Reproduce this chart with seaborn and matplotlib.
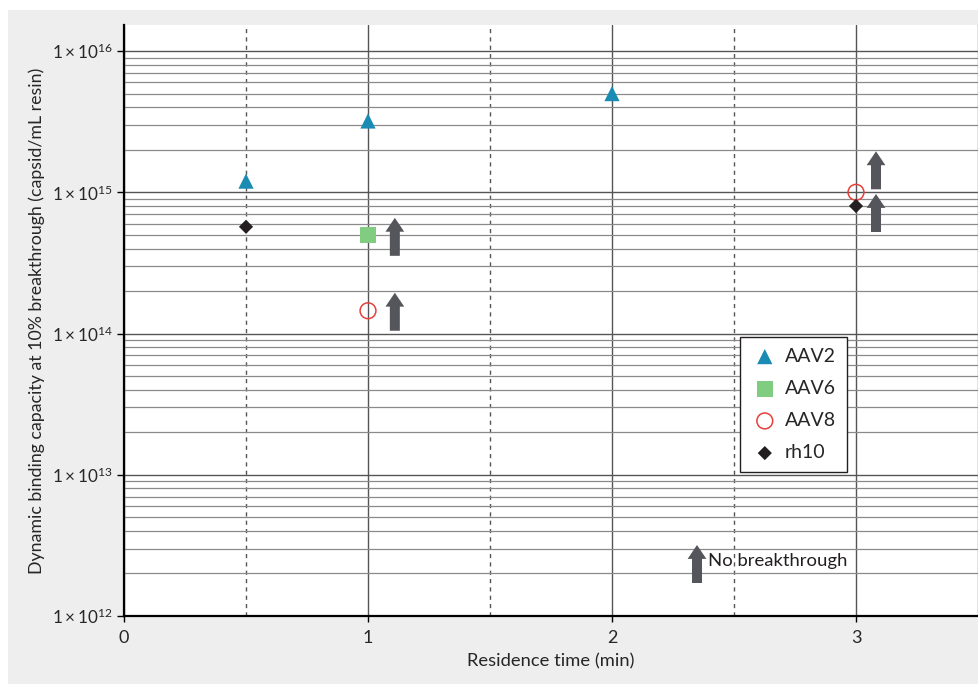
import numpy as np
import pandas as pd
import matplotlib
matplotlib.use("Agg")
import matplotlib.pyplot as plt
from matplotlib.patches import Rectangle
from matplotlib.ticker import FixedLocator, FuncFormatter, LogLocator, NullFormatter
from matplotlib.transforms import offset_copy
import seaborn as sns

# Dynamic binding capacity at 10% breakthrough per serotype
aav2_time = [0.5, 1.0, 2.0]
aav2_dbc = [1.2e15, 3.2e15, 5.0e15]
aav6_time = [1.0]
aav6_dbc = [5.0e14]
aav8_time = [1.0, 3.0]
aav8_dbc = [1.45e14, 1.0e15]
rh10_time = [0.5, 3.0]
rh10_dbc = [5.7e14, 8.0e14]

# Runs where no breakthrough occurred (value is a lower bound)
nb_series = ["AAV6", "AAV8", "AAV8", "rh10"]
nb_time = [1.0, 1.0, 3.0, 3.0]
nb_dbc = [5.0e14, 1.45e14, 1.0e15, 8.0e14]

x_ticks = [0, 1, 2, 3]
y_ticks = [1e12, 1e13, 1e14, 1e15, 1e16]

frames = []
for name, t, v in [("AAV2", aav2_time, aav2_dbc), ("AAV6", aav6_time, aav6_dbc),
                   ("AAV8", aav8_time, aav8_dbc), ("rh10", rh10_time, rh10_dbc)]:
    frames.append(pd.DataFrame({"serotype": name, "time": t, "dbc": v}))
df = pd.concat(frames, ignore_index=True)

sns.set_style("white")
plt.rcParams["font.family"] = ["Lato", "DejaVu Sans"]
plt.rcParams["mathtext.fontset"] = "custom"
plt.rcParams["mathtext.rm"] = "Lato"
plt.rcParams["mathtext.it"] = "Lato:italic"
plt.rcParams["mathtext.bf"] = "Lato:bold"

fig = plt.figure(figsize=(9.79, 6.84), dpi=100, facecolor="white")
fig.patches.append(Rectangle((8 / 979, 0), 1 - 8 / 979, 674 / 684,
                             transform=fig.transFigure, facecolor="#eeeeee",
                             edgecolor="none", zorder=-10))
ax = fig.add_axes([124 / 979, 68 / 684, 854 / 979, 591 / 684])
ax.set_facecolor("white")

styles = {
    "AAV2": dict(marker="^", s=120, color="#1a8bb3", edgecolor="none"),
    "AAV6": dict(marker="s", s=135, color="#80cc80", edgecolor="none"),
    "AAV8": dict(marker="o", s=130, facecolor="none", edgecolor="#e5403a", linewidth=1.1),
    "rh10": dict(marker="D", s=52, color="#231f20", edgecolor="none"),
}
for name, kw in styles.items():
    sub = df[df["serotype"] == name]
    sns.scatterplot(data=sub, x="time", y="dbc", ax=ax, label=name, zorder=5, **kw)

ax.set_yscale("log")
ax.set_xlim(0, 3.5)
ax.set_ylim(1e12, 1.53e16)

# grid: decades and sub-decades horizontally, whole and half minutes vertically
ax.yaxis.set_major_locator(FixedLocator(y_ticks))
ax.yaxis.set_minor_locator(LogLocator(base=10, subs=np.arange(2, 10), numticks=20))
ax.yaxis.set_minor_formatter(NullFormatter())
ax.yaxis.set_major_formatter(FuncFormatter(
    lambda v, p: r"$1\times10^{%d}$" % int(round(np.log10(v)))))
ax.xaxis.set_major_locator(FixedLocator(x_ticks))
ax.xaxis.set_minor_locator(FixedLocator([0.5, 1.5, 2.5]))

ax.grid(which="major", axis="y", color="#555555", linewidth=1.0)
ax.grid(which="minor", axis="y", color="#8a8a8a", linewidth=0.9)
ax.grid(which="major", axis="x", color="#555555", linewidth=1.0)
ax.grid(which="minor", axis="x", color="#555555", linewidth=1.0, linestyle=(0, (3, 3)))
ax.set_axisbelow(True)

ax.tick_params(axis="y", which="major", length=5, width=1, color="black",
               labelsize=12.3, pad=3, left=True)
ax.tick_params(axis="y", which="minor", length=0, left=False)
ax.tick_params(axis="x", which="major", length=4, width=1, color="black",
               labelsize=13, pad=6, bottom=True)
ax.tick_params(axis="x", which="minor", length=0, bottom=False)

for side in ["left", "bottom"]:
    ax.spines[side].set_color("black")
    ax.spines[side].set_linewidth(1.6)
ax.spines["top"].set_visible(False)
ax.spines["right"].set_color("#777777")
ax.spines["right"].set_linewidth(1.0)

ax.set_xlabel("Residence time (min)", fontsize=13.2, labelpad=5)
ax.set_ylabel("Dynamic binding capacity at 10% breakthrough (capsid/mL resin)",
              fontsize=12.8, labelpad=5)

arrow_kw = dict(arrowstyle="simple,head_length=1.0,head_width=1.35,tail_width=0.72",
                mutation_scale=10, shrinkA=0, shrinkB=0, color="#55565b", lw=0)
arrow_len = 38  # pixels
# horizontal shift (minutes) and tip height above the point (pixels)
nb_dx = [0.11, 0.11, 0.082, 0.082]
nb_tip = [17, 18, 41, 12]
for t, v, dx, tip in zip(nb_time, nb_dbc, nb_dx, nb_tip):
    tr = offset_copy(ax.transData, fig=fig, x=0, y=tip, units="dots")
    ax.annotate("", xy=(t + dx, v), xycoords=tr,
                xytext=(0, -arrow_len * 72 / 100), textcoords="offset points",
                arrowprops=arrow_kw, zorder=6)

# key for the arrows
ax.annotate("", xy=(573 / 854, 71 / 591), xycoords="axes fraction",
            xytext=(0, -arrow_len * 72 / 100), textcoords="offset points",
            arrowprops=arrow_kw, zorder=6)
ax.text(584 / 854, 55 / 591, "No breakthrough", transform=ax.transAxes,
        fontsize=13.3, va="center", ha="left", color="#231f20", zorder=6)

leg = ax.legend(loc="upper left", bbox_to_anchor=(616 / 854, 279 / 591),
                frameon=True, fancybox=False, fontsize=14, labelspacing=0.78,
                handletextpad=0.3, borderpad=0.55, handlelength=1.45,
                borderaxespad=0)
leg.get_frame().set_edgecolor("#231f20")
leg.get_frame().set_linewidth(1.0)
leg.get_frame().set_facecolor("white")
leg.get_frame().set_alpha(1)
leg.set_zorder(7)

fig.savefig("out.png", dpi=100, facecolor=fig.get_facecolor())
